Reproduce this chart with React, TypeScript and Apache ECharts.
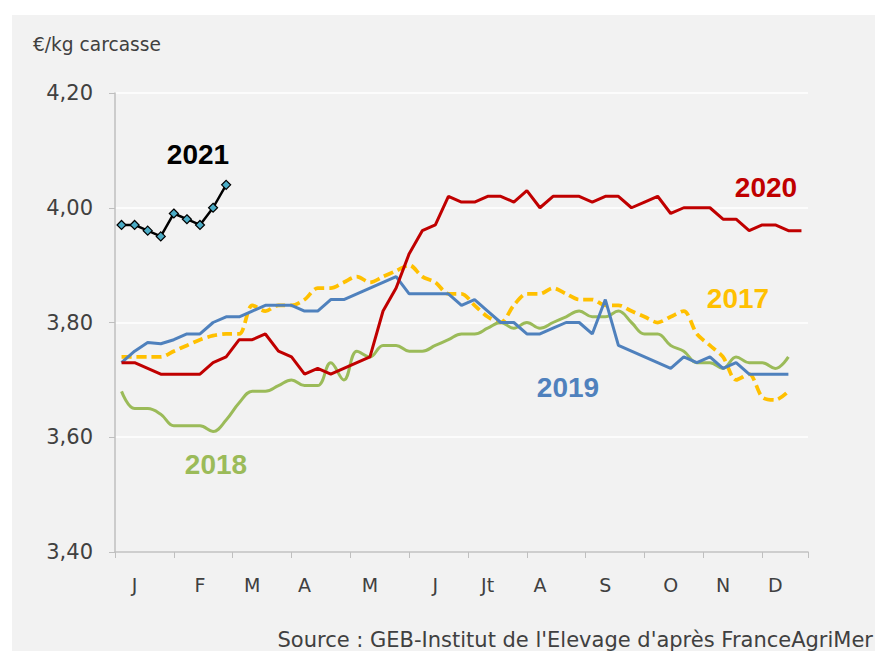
import React, { useEffect, useRef } from 'react';
import * as echarts from 'echarts';

// Weekly categories (week numbers) and month labels shown at given weeks
const weeks = Array.from({ length: 53 }, (_, i) => String(i + 1));
const monthLabels = ['J', 'F', 'M', 'A', 'M', 'J', 'Jt', 'A', 'S', 'O', 'N', 'D'];
const monthLabelWeeks = [2, 7, 11, 15, 20, 25, 29, 33, 38, 43, 47, 51];

// Prices €/kg carcasse by week
const s2017 = [
  3.74, 3.74, 3.74, 3.74, 3.75, 3.76, 3.77, 3.777, 3.78, 3.78,
  3.83, 3.82, 3.83, 3.83, 3.84, 3.86, 3.86, 3.87, 3.88, 3.87,
  3.88, 3.89, 3.90, 3.88, 3.87, 3.85, 3.85, 3.83, 3.81, 3.80,
  3.83, 3.85, 3.85, 3.86, 3.85, 3.84, 3.84, 3.83, 3.83, 3.82,
  3.81, 3.80, 3.81, 3.82, 3.78, 3.76, 3.74, 3.70, 3.71, 3.67,
  3.665, 3.68,
];
const s2018 = [
  3.68, 3.65, 3.65, 3.64, 3.62, 3.62, 3.62, 3.61, 3.63, 3.66,
  3.68, 3.68, 3.69, 3.70, 3.69, 3.69, 3.73, 3.70, 3.75, 3.74,
  3.76, 3.76, 3.75, 3.75, 3.76, 3.77, 3.78, 3.78, 3.79, 3.80,
  3.79, 3.80, 3.79, 3.80, 3.81, 3.82, 3.81, 3.81, 3.82, 3.80,
  3.78, 3.78, 3.76, 3.75, 3.73, 3.73, 3.72, 3.74, 3.73, 3.73,
  3.72, 3.74,
];
const s2019 = [
  3.73, 3.75, 3.765, 3.763, 3.77, 3.78, 3.78, 3.80, 3.81, 3.81,
  3.82, 3.83, 3.83, 3.83, 3.82, 3.82, 3.84, 3.84, 3.85, 3.86,
  3.87, 3.88, 3.85, 3.85, 3.85, 3.85, 3.83, 3.84, 3.82, 3.80,
  3.80, 3.78, 3.78, 3.79, 3.80, 3.80, 3.78, 3.84, 3.76, 3.75,
  3.74, 3.73, 3.72, 3.74, 3.73, 3.74, 3.72, 3.73, 3.71, 3.71,
  3.71, 3.71,
];
const s2020 = [
  3.73, 3.73, 3.72, 3.71, 3.71, 3.71, 3.71, 3.73, 3.74, 3.77,
  3.77, 3.78, 3.75, 3.74, 3.71, 3.72, 3.71, 3.72, 3.73, 3.74,
  3.82, 3.86, 3.92, 3.96, 3.97, 4.02, 4.01, 4.01, 4.02, 4.02,
  4.01, 4.03, 4.00, 4.02, 4.02, 4.02, 4.01, 4.02, 4.02, 4.00,
  4.01, 4.02, 3.99, 4.00, 4.00, 4.00, 3.98, 3.98, 3.96, 3.97,
  3.97, 3.96, 3.96,
];
const s2021 = [3.97, 3.97, 3.96, 3.95, 3.99, 3.98, 3.97, 4.00, 4.04];

const C2017 = '#FFC000';
const C2018 = '#9BBB59';
const C2019 = '#4F81BD';
const C2020 = '#C00000';
const C2021 = '#000000';
const TEXT = '#404040';
const AXIS = '#BFBFBF';
const FONT = '"DejaVu Sans", sans-serif';
const BOLD = '"Liberation Sans", Arial, sans-serif';

export default function App() {
  const ref = useRef<HTMLDivElement>(null);
  useEffect(() => {
    if (!ref.current) return;
    const chart = echarts.init(ref.current, undefined, { renderer: 'svg' });
    const labelMap: Record<number, string> = {};
    monthLabelWeeks.forEach((w, i) => { labelMap[w - 1] = monthLabels[i]; });

    const yearLabel = (text: string, x: number, y: number, color: string) => ({
      type: 'text', x, y, z: 50,
      style: { text, fill: color, font: `bold 28px ${BOLD}`, align: 'center', verticalAlign: 'middle' },
    });

    chart.setOption({
      animation: false,
      backgroundColor: '#FFFFFF',
      grid: { left: 115, right: 67, top: 93, bottom: 99, containLabel: false },
      xAxis: [
        {
          type: 'category',
          position: 'bottom',
          data: weeks,
          boundaryGap: true,
          axisLine: { show: false },
          axisTick: { show: false },
          splitLine: { show: false },
          axisLabel: {
            interval: 0,
            margin: 23,
            color: TEXT,
            fontFamily: FONT,
            fontSize: 19,
            formatter: (_v: string, idx: number) => labelMap[idx] || '',
          },
        },
        {
          type: 'value',
          position: 'bottom',
          min: 0,
          max: 53,
          interval: 4.5,
          axisLine: { show: true, lineStyle: { color: AXIS, width: 1.5 } },
          axisTick: { show: true, length: 6, lineStyle: { color: AXIS, width: 1 } },
          axisLabel: { show: false },
          splitLine: { show: false },
        },
      ],
      yAxis: {
        type: 'value',
        min: 3.4,
        max: 4.2,
        interval: 0.2,
        axisLine: { show: true, lineStyle: { color: AXIS, width: 1.5 } },
        axisTick: { show: true, length: 6, lineStyle: { color: AXIS, width: 1 } },
        axisLabel: {
          margin: 22,
          color: TEXT,
          fontFamily: FONT,
          fontSize: 21,
          formatter: (v: number) => v.toFixed(2).replace('.', ','),
        },
        splitLine: { show: true, lineStyle: { color: '#FFFFFF', width: 1.5 } },
      },
      series: [
        {
          name: '2017', type: 'line', data: s2017, smooth: 0.3, showSymbol: false,
          lineStyle: { color: C2017, width: 3.75, type: [10, 5] }, z: 3,
        },
        {
          name: '2018', type: 'line', data: s2018, smooth: 0.4, showSymbol: false,
          lineStyle: { color: C2018, width: 3 }, z: 4,
        },
        {
          name: '2019', type: 'line', data: s2019, showSymbol: false,
          lineStyle: { color: C2019, width: 3 }, z: 5,
        },
        {
          name: '2020', type: 'line', data: s2020, showSymbol: false,
          lineStyle: { color: C2020, width: 3 }, z: 6,
        },
        {
          name: '2021', type: 'line', data: s2021, symbol: 'diamond', symbolSize: 9,
          showSymbol: true,
          itemStyle: { color: '#4BACC6', borderColor: '#000000', borderWidth: 1.2 },
          lineStyle: { color: C2021, width: 2.5 }, z: 7,
        },
      ],
      graphic: [
        {
          type: 'rect', z: -100, silent: true,
          shape: { x: 12, y: 15, width: 863, height: 636 },
          style: { fill: '#F2F2F2' },
        },
        {
          type: 'text', x: 33, y: 44, z: 50,
          style: { text: '€/kg carcasse', fill: TEXT, font: `18.6px ${FONT}`, align: 'left', verticalAlign: 'middle' },
        },
        yearLabel('2021', 198, 154, C2021),
        yearLabel('2020', 766, 187, C2020),
        yearLabel('2017', 738, 298, C2017),
        yearLabel('2019', 568, 387, C2019),
        yearLabel('2018', 216, 464, C2018),
        {
          type: 'text', x: 873, y: 640, z: 50,
          style: {
            text: "Source : GEB-Institut de l'Elevage d'après FranceAgriMer",
            fill: TEXT, font: `21px ${FONT}`, align: 'right', verticalAlign: 'middle',
          },
        },
      ],
    });
    return () => chart.dispose();
  }, []);
  return (
    <div
      ref={ref}
      style={{ position: 'absolute', left: 0, top: 0, width: 875, height: 651 }}
    />
  );
}
